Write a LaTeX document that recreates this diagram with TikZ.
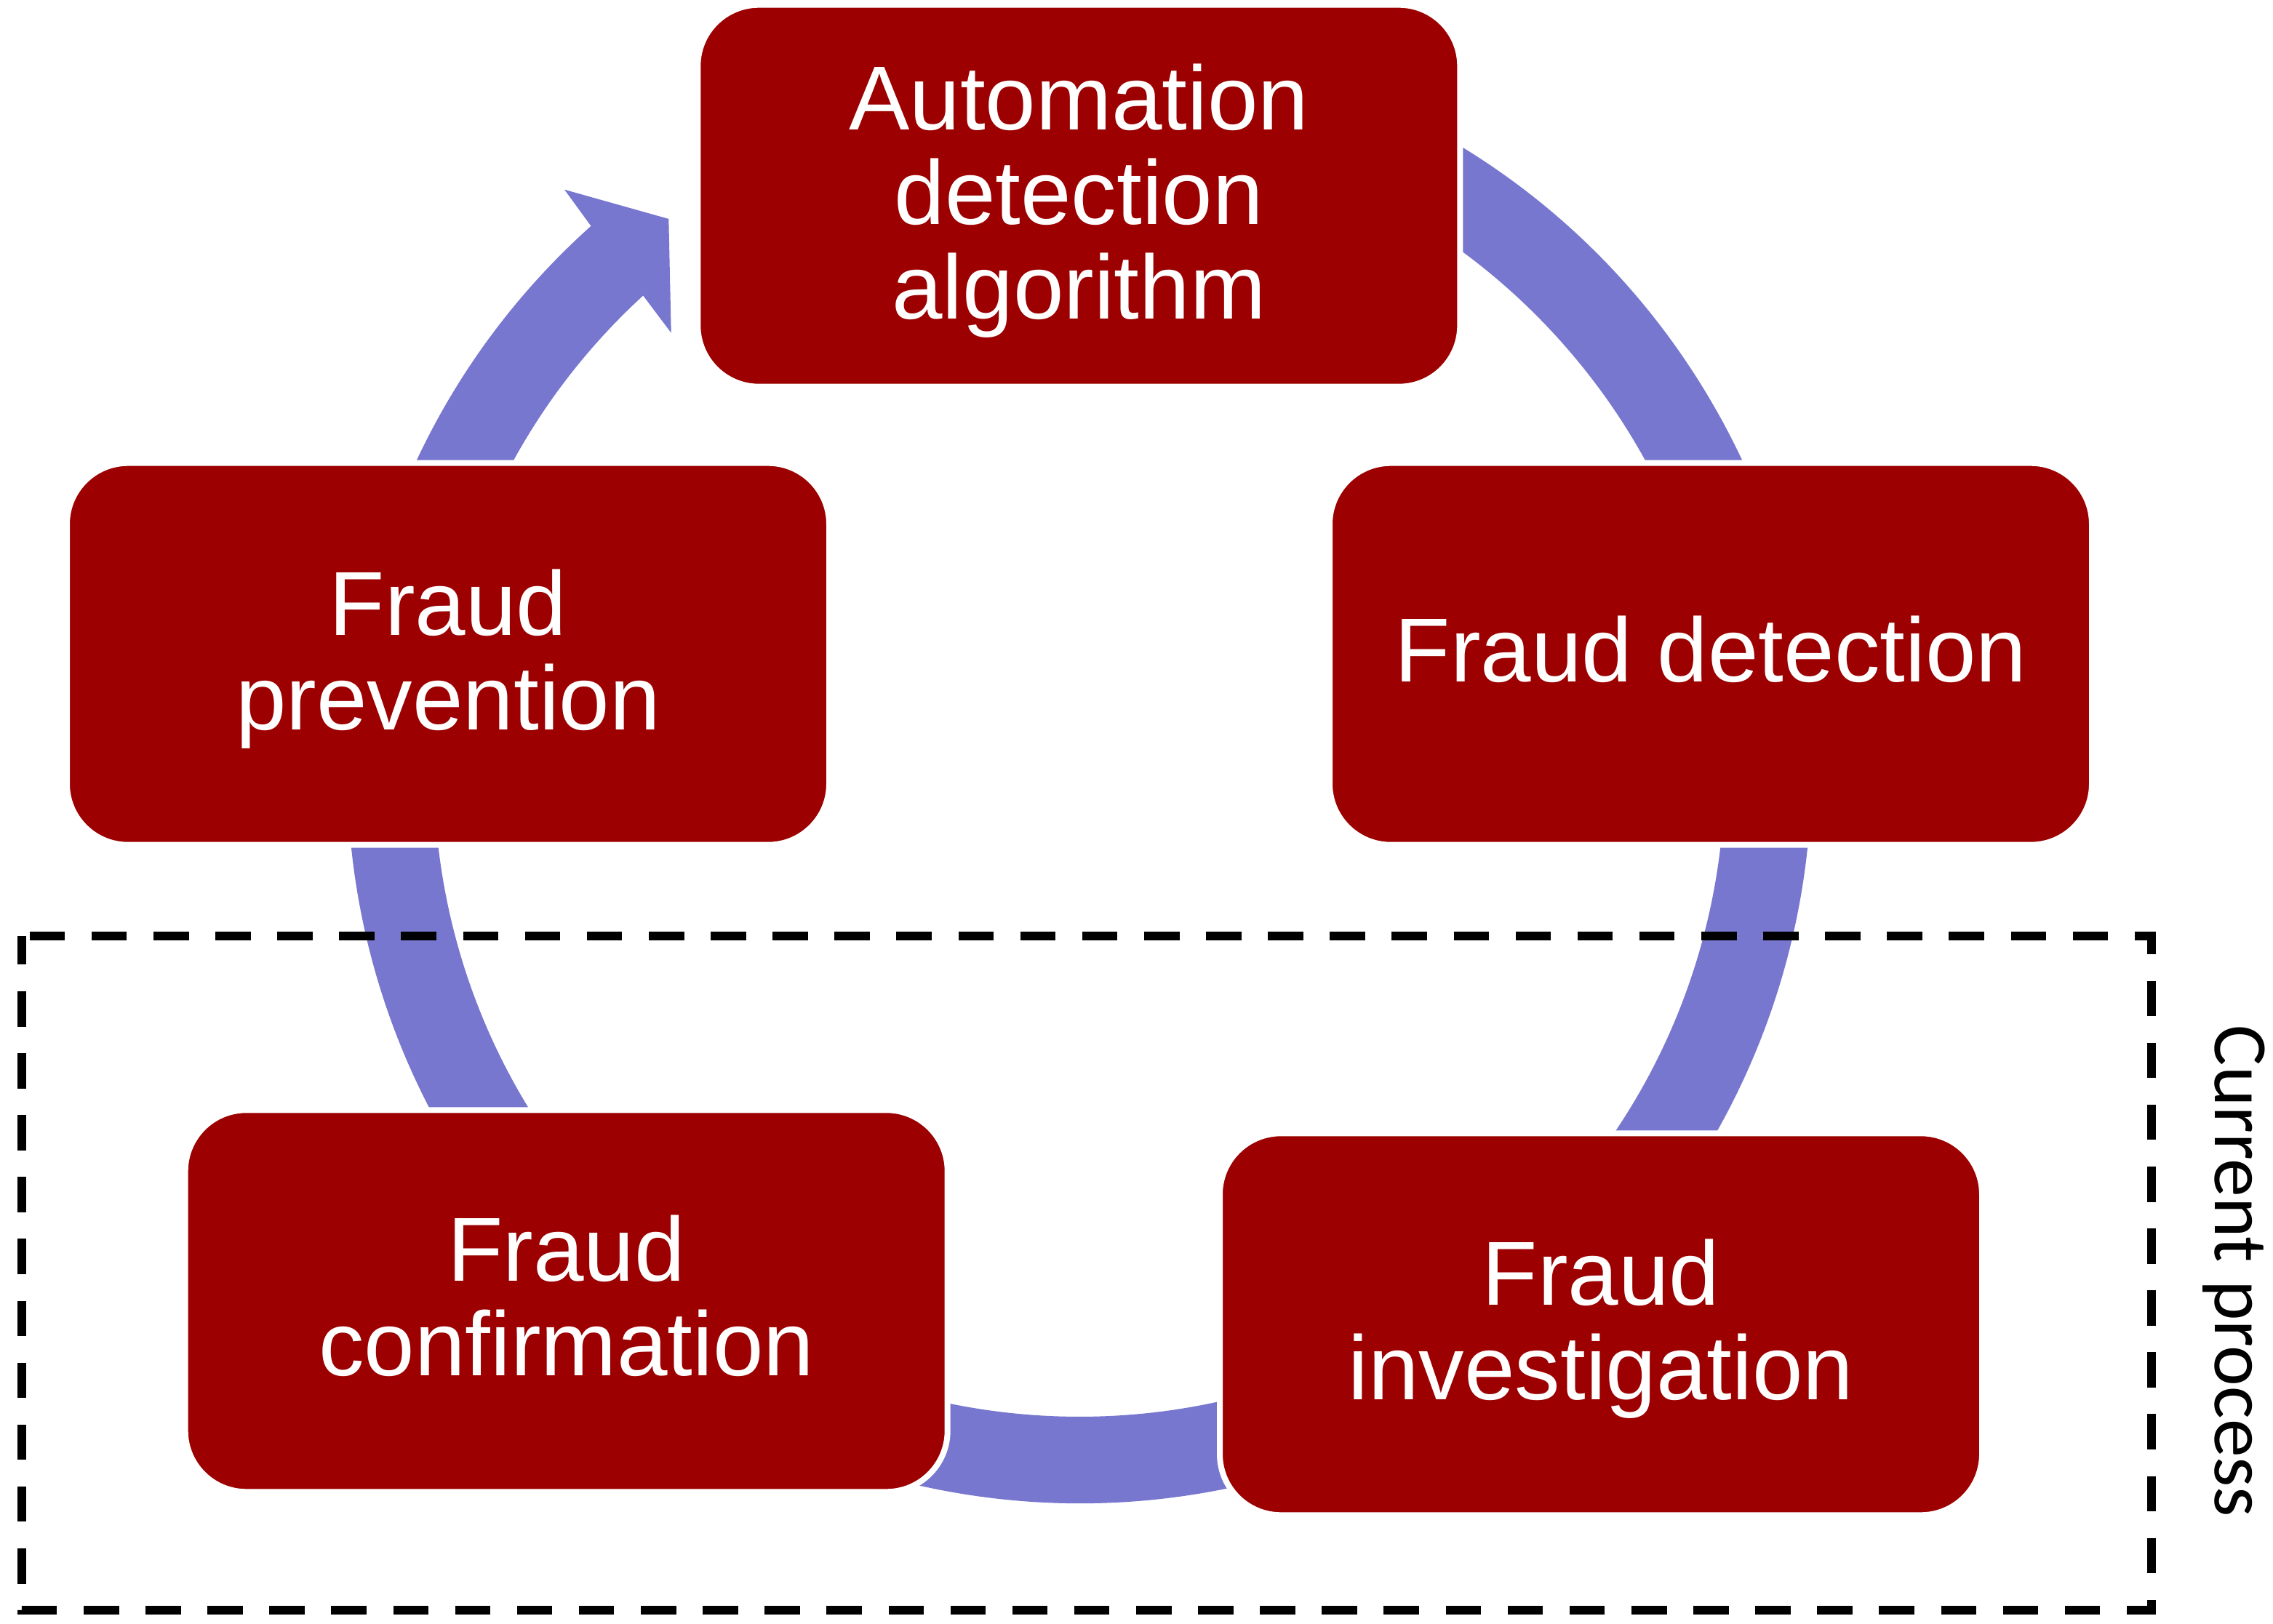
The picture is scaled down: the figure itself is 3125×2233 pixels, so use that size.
\documentclass[tikz,border=0pt]{standalone}
\usepackage{fontspec}
\newfontfamily\boxfont{Liberation Sans}
\newfontfamily\labelfont{Carlito}
\usetikzlibrary{calc}
\definecolor{boxred}{RGB}{156,0,0}
\definecolor{arrowblue}{RGB}{119,119,207}
\begin{document}
\begin{tikzpicture}[x=0.25pt,y=-0.25pt,
  stage/.style={rounded corners=21pt, fill=boxred, draw=white, line width=2pt,
    minimum width=262pt, minimum height=131.25pt, inner sep=0pt},
  stagetext/.style={inner sep=0pt, text=white, align=center,
    font=\boxfont\fontsize{31.25}{32.5}\selectfont},
  cyclearrow/.style={fill=arrowblue},
  scopebox/.style={draw=black, line width=3pt, dash pattern=on 12.15pt off 9.13pt, dash phase=18.6pt},
  sidelabel/.style={rotate=-90, anchor=base, inner sep=0pt, font=\labelfont\fontsize{26.4}{30}\selectfont}
]
\useasboundingbox (0,0) rectangle (3125,2233);
% centre of the cycle
\coordinate (C) at (1484,1060.5);
% head of the cycle arrow
\coordinate (barbO) at (776,260.7);
\coordinate (tip) at (919.3,301);
\coordinate (barbI) at (922.7,457.7);
% ring of arrows (hidden under the boxes where they meet)
\fill[cyclearrow] ($(C)+(240:1006.5)$) arc[start angle=240,end angle=588.15,radius=1006.5]
  -- (barbO) -- (tip) -- (barbI)
  -- ($(C)+(587.48:887.5)$) arc[start angle=587.48,end angle=240,radius=887.5] -- cycle;
% stages
\node[stage] (auto) at (1483.3,269.2) {};
\node[stage] (detect) at (2352,899.2) {};
\node[stage] (invest) at (2201,1820.8) {};
\node[stage] (confirm) at (778.7,1788.8) {};
\node[stage] (prevent) at (616,899.2) {};
\node[stagetext] (autotxt) at ($(auto)+(0,7.3)$) {Automation\\detection\\algorithm};
\node[stagetext] (detecttxt) at ($(detect)+(0,-6.4)$) {Fraud detection};
\node[stagetext] (investtxt) at ($(invest)+(0,6)$) {Fraud\\investigation};
\node[stagetext] (confirmtxt) at ($(confirm)+(0,-7)$) {Fraud\\confirmation};
\node[stagetext] (preventtxt) at ($(prevent)+(0,6.6)$) {Fraud\\prevention};
% current process frame
\coordinate (fTL) at (30,1286.7);
\coordinate (fTR) at (2958,1286.7);
\coordinate (fBR) at (2958,2214.3);
\coordinate (fBL) at (30,2214.3);
\draw[scopebox] (fTL) -- (fTR) -- (fBR) -- (fBL) -- cycle;
\node[sidelabel] (cur) at (3045,1748) {Current process};
\end{tikzpicture}
\end{document}
